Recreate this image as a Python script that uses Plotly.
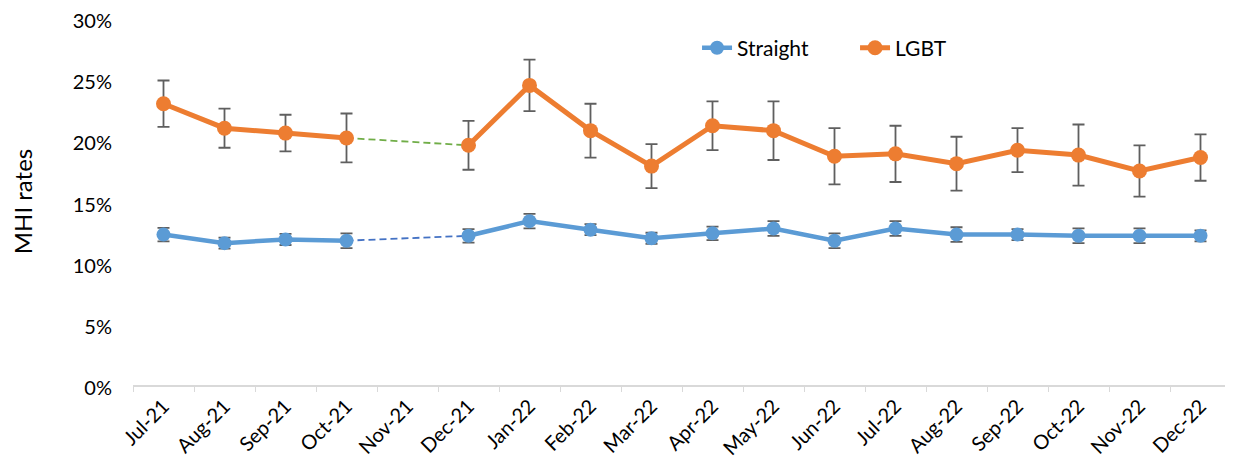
import plotly.graph_objects as go

months = ["Jul-21", "Aug-21", "Sep-21", "Oct-21", "Nov-21", "Dec-21", "Jan-22", "Feb-22", "Mar-22",
          "Apr-22", "May-22", "Jun-22", "Jul-22", "Aug-22", "Sep-22", "Oct-22", "Nov-22", "Dec-22"]
straight = [0.123, 0.116, 0.119, 0.118, None, 0.122, 0.134, 0.127, 0.120,
            0.124, 0.128, 0.118, 0.128, 0.123, 0.123, 0.122, 0.122, 0.122]
straight_err = [0.0055, 0.0045, 0.0045, 0.006, None, 0.0055, 0.006, 0.0045, 0.0045,
                0.0055, 0.006, 0.006, 0.006, 0.006, 0.0045, 0.006, 0.006, 0.0045]
lgbt = [0.230, 0.210, 0.206, 0.202, None, 0.196, 0.245, 0.208, 0.179,
        0.212, 0.208, 0.187, 0.189, 0.181, 0.192, 0.188, 0.175, 0.186]
lgbt_err = [0.019, 0.016, 0.015, 0.020, None, 0.020, 0.021, 0.022, 0.018,
            0.020, 0.024, 0.023, 0.023, 0.022, 0.018, 0.025, 0.021, 0.019]
y_ticks = [0, 0.05, 0.10, 0.15, 0.20, 0.25, 0.30]
y_tick_labels = ["0%", "5%", "10%", "15%", "20%", "25%", "30%"]
gap_from, gap_to = "Oct-21", "Dec-21"

BLUE = "#5B9BD5"
ORANGE = "#ED7D31"
FONT = "Lato"

i0, i1 = months.index(gap_from), months.index(gap_to)

fig = go.Figure()
# dashed connectors across missing month
fig.add_trace(go.Scatter(x=[months[i0], months[i1]], y=[straight[i0], straight[i1]],
                         mode="lines", line=dict(color="#4472C4", width=1.8, dash="7px,4px"),
                         showlegend=False, hoverinfo="skip"))
fig.add_trace(go.Scatter(x=[months[i0], months[i1]], y=[lgbt[i0], lgbt[i1]],
                         mode="lines", line=dict(color="#70AD47", width=1.8, dash="7px,4px"),
                         showlegend=False, hoverinfo="skip"))

fig.add_trace(go.Scatter(x=months, y=straight, name="Straight", mode="lines+markers",
                         line=dict(color=BLUE, width=4.5), marker=dict(color=BLUE, size=14),
                         error_y=dict(type="data", array=straight_err, color="#5f5f5f",
                                      thickness=1.8, width=6),
                         connectgaps=False))
fig.add_trace(go.Scatter(x=months, y=lgbt, name="LGBT", mode="lines+markers",
                         line=dict(color=ORANGE, width=5), marker=dict(color=ORANGE, size=15),
                         error_y=dict(type="data", array=lgbt_err, color="#5f5f5f",
                                      thickness=1.8, width=6),
                         connectgaps=False))

fig.update_layout(
    width=1225, height=460,
    margin=dict(l=125, r=2, t=10, b=83, autoexpand=False),
    paper_bgcolor="white", plot_bgcolor="white",
    font=dict(family=FONT, color="#000000"),
    legend=dict(orientation="h", x=0.5137, y=0.918, xanchor="left", yanchor="middle",
                font=dict(size=21, family=FONT), bgcolor="rgba(0,0,0,0)",
                entrywidth=113, entrywidthmode="pixels"),
    showlegend=True,
)
fig.update_xaxes(type="category", categoryorder="array", categoryarray=months,
                 tickangle=-45, tickfont=dict(size=20, family=FONT), automargin=False,
                 showline=True, linecolor="#D9D9D9", linewidth=1.5,
                 ticks="outside", tickson="boundaries", tickcolor="#D9D9D9", ticklen=5,
                 showgrid=False, range=[-0.5, len(months) - 0.5])
fig.update_yaxes(range=[0, 0.3001], tickmode="array", tickvals=y_ticks, ticktext=y_tick_labels,
                 tickfont=dict(size=20, family=FONT), showgrid=False, zeroline=False,
                 showline=False, ticks="", ticklabelstandoff=20, ticklabeloverflow="allow",
                 ticklabelshift=3, automargin=False,
                 title=dict(text="MHI rates", font=dict(size=24, family=FONT), standoff=38))

fig.write_html("out.html")
